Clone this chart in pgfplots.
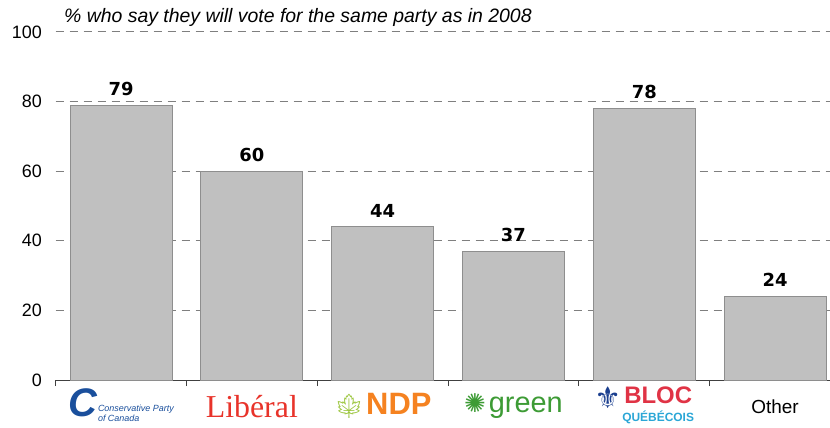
\documentclass[border=0pt]{standalone}
\usepackage{pgfplots}
\pgfplotsset{compat=1.18}
\usepackage{pgfplotstable}
\usepackage{fontspec}
\setmainfont{Liberation Sans}
\newfontfamily\valfont{DejaVu Sans}
\newfontfamily\serifl{Liberation Serif}
\newfontfamily\emoji{Noto Emoji}
\newfontfamily\sym{DejaVu Sans}
\definecolor{barfill}{HTML}{C0C0C0}
\definecolor{baredge}{HTML}{8E8E8E}
\definecolor{gridc}{HTML}{7F7F7F}
\definecolor{consblue}{HTML}{1A4F9C}
\definecolor{libred}{HTML}{E8332A}
\definecolor{ndporange}{HTML}{F58220}
\definecolor{ndpgreen}{HTML}{9BC53D}
\definecolor{greenp}{HTML}{3D9B35}
\definecolor{blocred}{HTML}{E03345}
\definecolor{bloccyan}{HTML}{2AA6D6}
\definecolor{blocnavy}{HTML}{1B3F8F}
\pgfplotstableread{
x y
0 79
1 60
2 44
3 37
4 78
5 24
}\datatable
\begin{document}
\begin{tikzpicture}
\begin{axis}[
  at={(0,0)}, anchor=south west,
  scale only axis, width=774.4bp, height=348bp,
  xmin=-0.5, xmax=5.42, ymin=0, ymax=100,
  enlargelimits=false,
  /pgf/number format/assume math mode=true,
  axis x line*=bottom, axis y line*=left,
  y axis line style={draw=none},
  x axis line style={draw=black!75, line width=0.8bp, -},
  ytick={0,20,...,100},
  ytick style={draw=none},
  yticklabel style={font=\fontsize{18}{18}\selectfont, xshift=-6bp},
  ymajorgrids,
  grid style={gridc, line width=1bp, dash pattern=on 8bp off 6bp},
  xtick={0,...,5},
  major x tick style={draw=none},
  minor xtick={-0.5,0.5,1.5,2.5,3.5,4.5},
  minor x tick style={draw=black!75, line width=0.8bp},
  minor tick length=6bp,
  tick align=outside,
  xticklabels={
    {{\color{consblue}\fontsize{40}{40}\selectfont\bfseries\itshape C}\hspace{1bp}{\color{consblue}\fontsize{9}{10}\selectfont\itshape\begin{tabular}[c]{@{}l@{}}Conservative Party\\of Canada\end{tabular}}},
    {\color{libred}\serifl\fontsize{32}{32}\selectfont Lib\'eral},
    {{\color{ndpgreen}\emoji\fontsize{24}{24}\selectfont ^^^^^^01f341}\hspace{2bp}{\color{ndporange}\bfseries\fontsize{31}{31}\selectfont NDP}},
    {{\color{greenp}\sym\fontsize{26}{26}\selectfont ✺}\hspace{3bp}{\color{greenp}\fontsize{29}{29}\selectfont green}},
    {{\color{blocnavy}\sym\bfseries\fontsize{30}{30}\selectfont ⚜}\hspace{1bp}{\fontsize{10}{14}\selectfont\begin{tabular}[c]{@{}c@{}}{\color{blocred}\bfseries\fontsize{24}{24}\selectfont BLOC}\\[3bp]{\color{bloccyan}\bfseries\fontsize{12}{12}\selectfont QU\'EB\'ECOIS}\end{tabular}}},
    {\fontsize{19}{19}\selectfont Other}
  },
  xticklabel style={anchor=center, yshift=-22bp},
  ybar, bar width=102bp,
  nodes near coords,
  nodes near coords style={font=\valfont\bfseries\fontsize{18}{18}\selectfont, yshift=6bp},
]
\addplot[fill=barfill, draw=baredge, line width=0.8bp] table[x=x, y=y] {\datatable};
\end{axis}
\node[anchor=base west, font=\itshape\fontsize{19.5}{19.5}\selectfont] at (5bp,357bp) {\% who say they will vote for the same party as in 2008};
\pgfresetboundingbox
\path[use as bounding box] (-55.6bp,-48bp) rectangle (774.4bp,380bp);
\end{tikzpicture}
\end{document}
